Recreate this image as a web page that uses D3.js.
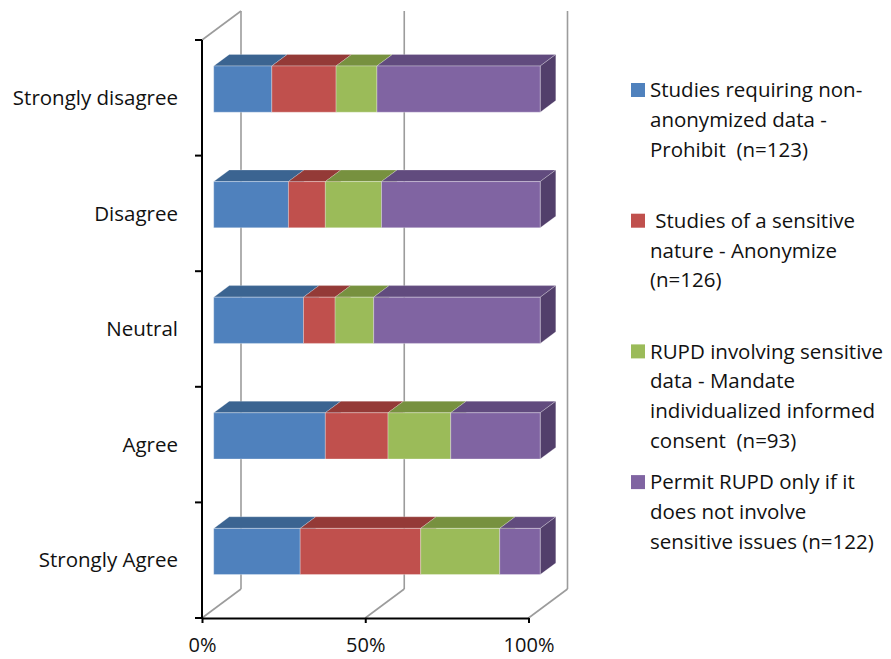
<!DOCTYPE html>
<html>
<head>
<meta charset="utf-8">
<script src="https://cdn.jsdelivr.net/npm/d3@7/dist/d3.min.js"></script>
<style>
  html, body { margin: 0; padding: 0; background: #fff; }
  svg { display: block; }
  text { font-family: "Open Sans", "Noto Sans", "Liberation Sans", sans-serif; fill: #111; }
</style>
</head>
<body>
<svg id="chart" width="891" height="659"></svg>
<script>
// Agreement levels (top to bottom)
const categories = ["Strongly disagree", "Disagree", "Neutral", "Agree", "Strongly Agree"];

// Share of responses (%) for each policy, per agreement level
const prohibit   = [17.8, 22.9, 27.5, 34.2, 26.5];
const anonymize  = [19.7, 11.3,  9.7, 19.2, 36.9];
const consent    = [12.5, 17.2, 11.8, 19.2, 24.2];
const permitOnly = [50.0, 48.6, 51.0, 27.4, 12.4];

const seriesKeys = ["prohibit", "anonymize", "consent", "permitOnly"];
const seriesLabels = [
  ["Studies requiring non-", "anonymized data -", "Prohibit  (n=123)"],
  [" Studies of a sensitive", "nature - Anonymize", "(n=126)"],
  ["RUPD involving sensitive", "data - Mandate", "individualized informed", "consent  (n=93)"],
  ["Permit RUPD only if it", "does not involve", "sensitive issues (n=122)"]
];
const xTicks = [0, 0.5, 1];

const FONT = "20.5px";

// Face colours: front, top, right side
const palette = {
  prohibit:   { front: "#4F81BD", top: "#3B6491", side: "#34587F" },
  anonymize:  { front: "#C0504D", top: "#943A37", side: "#82322F" },
  consent:    { front: "#9BBB59", top: "#77913F", side: "#688037" },
  permitOnly: { front: "#8064A2", top: "#614B7E", side: "#523F6B" }
};

const table = categories.map((c, i) => ({
  category: c,
  prohibit: prohibit[i],
  anonymize: anonymize[i],
  consent: consent[i],
  permitOnly: permitOnly[i]
}));

const stacked = d3.stack().keys(seriesKeys).offset(d3.stackOffsetExpand)(table);

const svg = d3.select("#chart");

// Front plane of the plot and the oblique depth vector
const x = d3.scaleLinear().domain([0, 1]).range([202, 528.5]);
const y = d3.scaleBand().domain(categories).range([40, 618]).paddingInner(0.6).paddingOuter(0.3);
const DX = 39, DY = 29;
const zFront = 0.3, zBack = 0.7;
const yTop = 40, yBottom = 618;

const P = (px, py, z) => [px + z * DX, py - z * DY];
const poly = pts => "M" + pts.map(p => p.join(",")).join("L") + "Z";

// Back wall gridlines, floor lines and side-wall top edge
const grid = svg.append("g").attr("stroke", "#9c9c9c").attr("stroke-width", 1.6).attr("fill", "none");
xTicks.forEach(t => {
  const [bx, by] = P(x(t), yTop, 1);
  const [fx, fy] = P(x(t), yBottom, 1);
  grid.append("line").attr("x1", bx).attr("y1", by).attr("x2", fx).attr("y2", fy);
  grid.append("line").attr("x1", x(t)).attr("y1", yBottom).attr("x2", fx).attr("y2", fy);
});
{
  const [bx, by] = P(x(0), yTop, 1);
  grid.append("line").attr("x1", x(0)).attr("y1", yTop).attr("x2", bx).attr("y2", by);
}

// Bars: each segment is a box with front, top and right faces
const bars = svg.append("g");
stacked.forEach(layer => {
  const col = palette[layer.key];
  layer.forEach(d => {
    const cat = d.data.category;
    const y0 = y(cat), y1 = y(cat) + y.bandwidth();
    const a = x(d[0]), b = x(d[1]);
    const fTL = P(a, y0, zFront), fTR = P(b, y0, zFront), fBR = P(b, y1, zFront), fBL = P(a, y1, zFront);
    const bTL = P(a, y0, zBack), bTR = P(b, y0, zBack), bBR = P(b, y1, zBack);
    const g = bars.append("g").attr("stroke-width", 0.7).attr("stroke-linejoin", "round");
    g.append("path").attr("d", poly([fTL, fTR, bTR, bTL])).attr("fill", col.top).attr("stroke", "rgba(255,255,255,0.35)");
    g.append("path").attr("d", poly([fTR, bTR, bBR, fBR])).attr("fill", col.side).attr("stroke", "rgba(255,255,255,0.35)");
    g.append("path").attr("d", poly([fTL, fTR, fBR, fBL])).attr("fill", col.front).attr("stroke", "rgba(255,255,255,0.45)");
  });
});

// Value axis
const xAxis = svg.append("g")
  .attr("transform", `translate(0,${yBottom})`)
  .call(d3.axisBottom(x).tickValues(xTicks).tickFormat(d3.format(".0%")).tickSize(5).tickPadding(15).tickSizeOuter(0));
xAxis.select(".domain").attr("stroke", "#000").attr("stroke-width", 2);
xAxis.selectAll(".tick line").attr("stroke", "#000").attr("stroke-width", 2);
xAxis.selectAll(".tick text").attr("font-family", null).style("font-size", "20px").style("fill", "#111");

// Category axis: line, ticks on band boundaries, labels at band centres
const catAxis = svg.append("g").attr("stroke", "#000").attr("stroke-width", 2);
catAxis.append("line").attr("x1", x(0)).attr("y1", yTop).attr("x2", x(0)).attr("y2", yBottom + 1);
d3.range(categories.length + 1).forEach(i => {
  const ty = yTop + i * (yBottom - yTop) / categories.length;
  catAxis.append("line").attr("x1", x(0) - 7).attr("x2", x(0)).attr("y1", ty).attr("y2", ty);
});
svg.append("g").selectAll("text").data(categories).join("text")
  .attr("x", x(0) - 24)
  .attr("y", (d, i) => yTop + (i + 0.5) * (yBottom - yTop) / categories.length)
  .attr("dy", "0.35em")
  .attr("text-anchor", "end")
  .style("font-size", FONT)
  .text(d => d);

// Legend
const legend = svg.append("g").attr("transform", "translate(631,83)");
seriesKeys.forEach((k, i) => {
  const g = legend.append("g").attr("transform", `translate(0,${i * 130.7})`);
  g.append("rect").attr("width", 14).attr("height", 14).attr("fill", palette[k].front);
  seriesLabels[i].forEach((line, j) => {
    g.append("text")
      .attr("x", 19)
      .attr("y", 7 + j * 29.7)
      .attr("dy", "0.35em")
      .attr("xml:space", "preserve")
      .style("white-space", "pre")
      .style("font-size", FONT)
      .text(line);
  });
});
</script>
</body>
</html>
